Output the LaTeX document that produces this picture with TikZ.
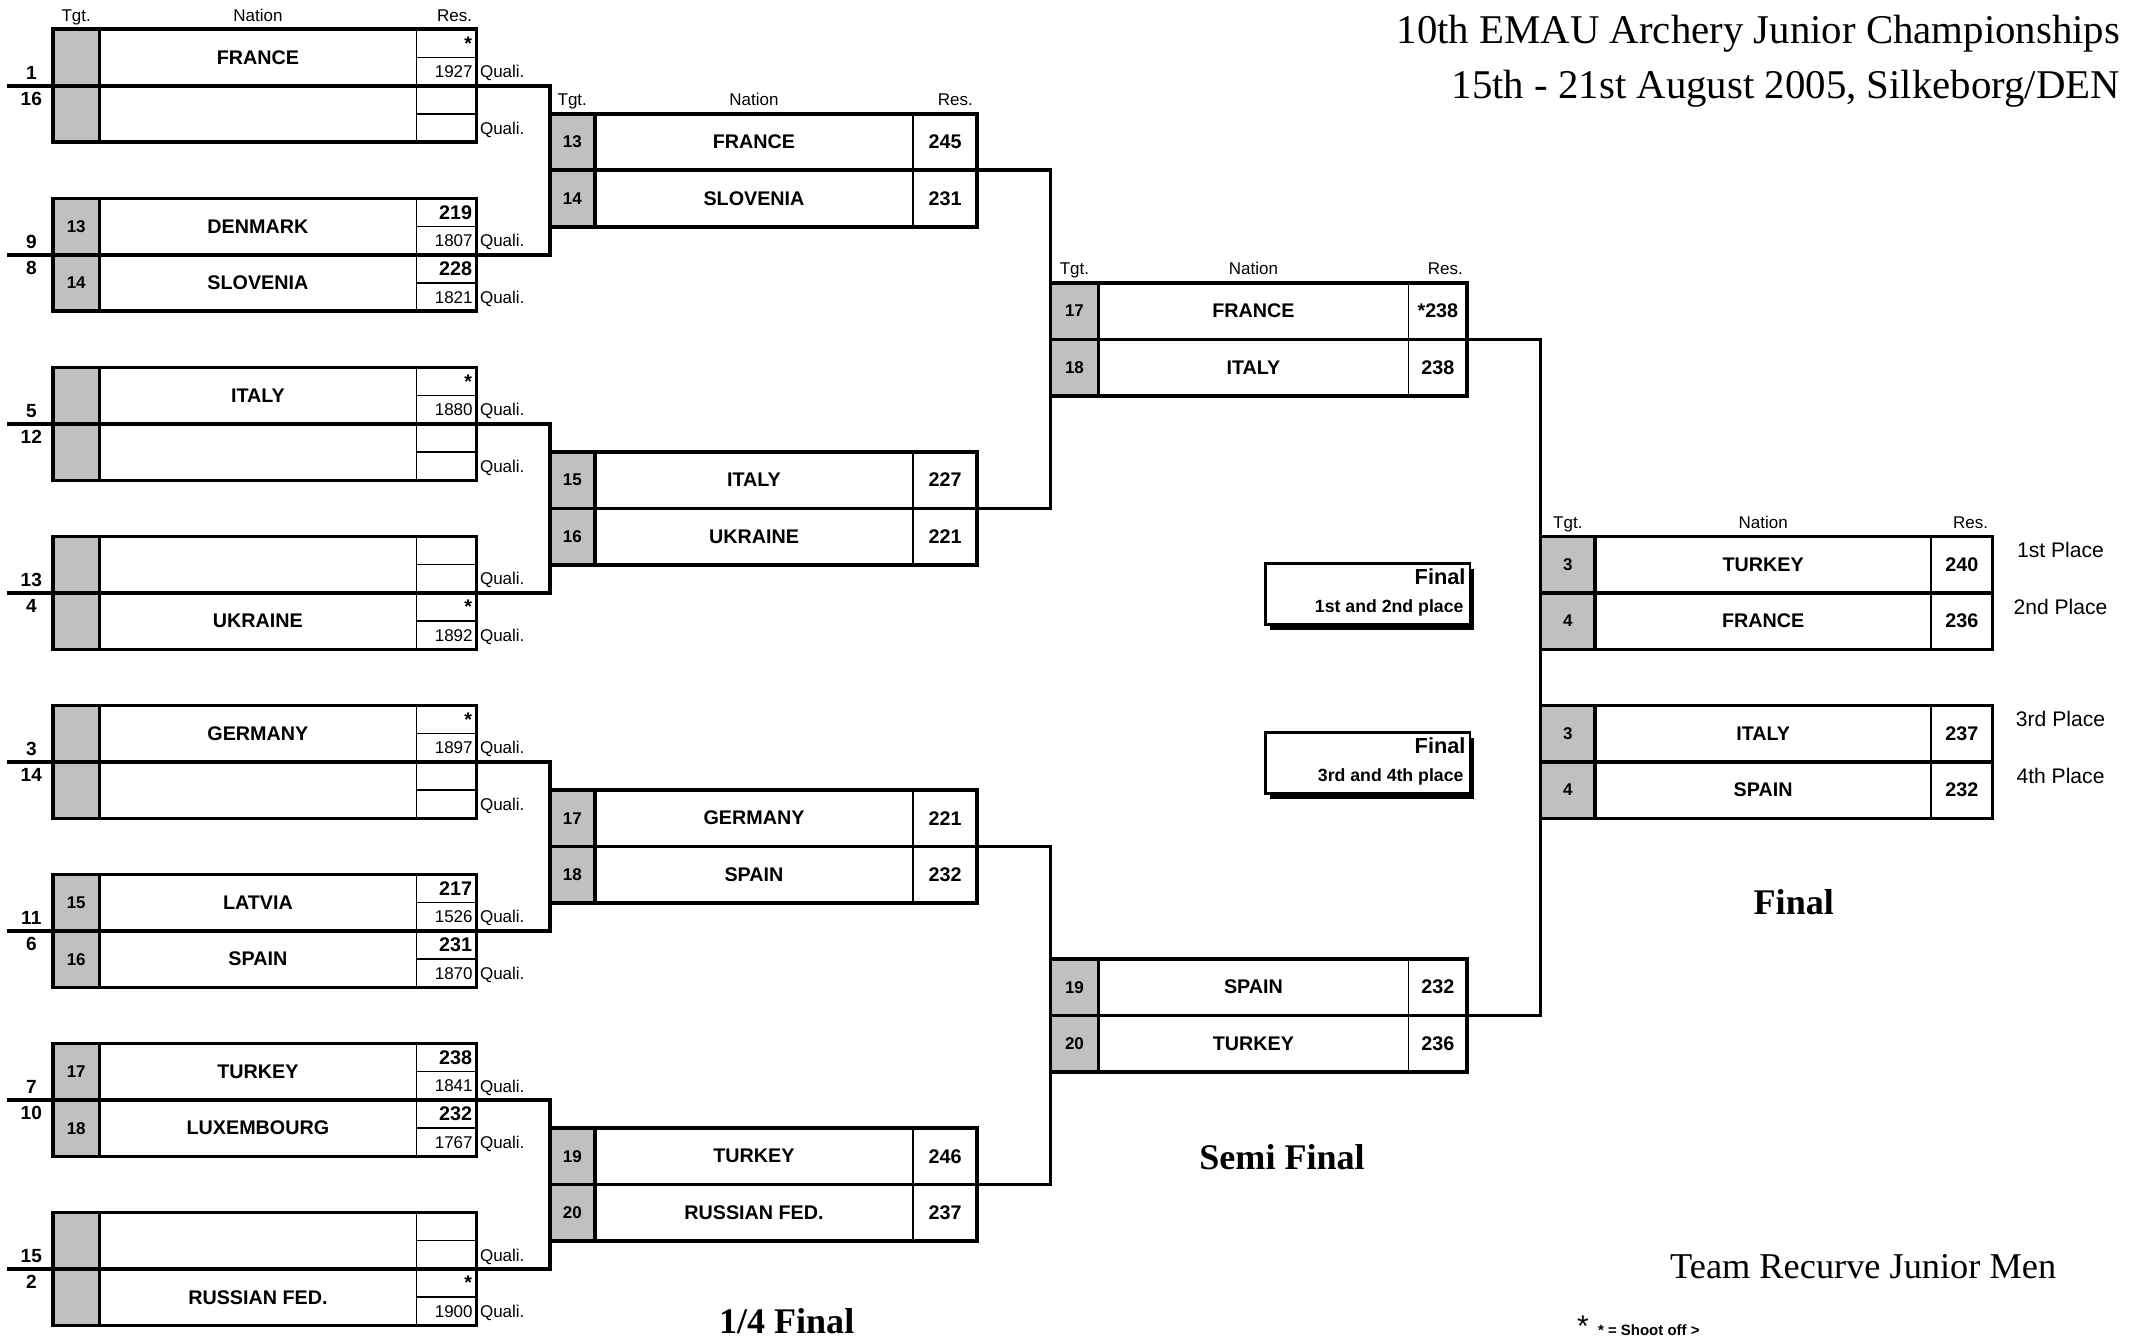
\documentclass[tikz,border=0pt]{standalone}
\usepackage{fontspec}
\setmainfont{Liberation Serif}
\setsansfont{Liberation Sans}
\usepackage{tikz}

\definecolor{tgtgray}{RGB}{192,192,192}

\tikzset{
  boxline/.style={line width=2.6pt},
  cellline/.style={line width=1.1pt},
  hdr/.style={font=\sffamily\fontsize{12.5}{14}\selectfont, inner sep=0pt},
  nation/.style={font=\sffamily\bfseries\fontsize{14.5}{16}\selectfont, inner sep=0pt},
  tgtnum/.style={font=\sffamily\bfseries\fontsize{12.5}{14}\selectfont, inner sep=0pt},
  resnum/.style={font=\sffamily\bfseries\fontsize{14.5}{16}\selectfont, inner sep=0pt},
  quali/.style={font=\sffamily\fontsize{12.5}{14}\selectfont, inner sep=0pt, text depth=0pt},
  seed/.style={font=\sffamily\bfseries\fontsize{14}{16}\selectfont, inner sep=0pt},
  place/.style={font=\sffamily\fontsize{15.5}{18}\selectfont, inner sep=0pt},
  roundname/.style={font=\rmfamily\bfseries\fontsize{26.5}{30}\selectfont, inner sep=0pt},
  title/.style={font=\rmfamily\fontsize{30}{34}\selectfont, inner sep=0pt, anchor=east},
  signbig/.style={font=\sffamily\bfseries\fontsize{16}{18}\selectfont, inner sep=0pt},
  signsmall/.style={font=\sffamily\bfseries\fontsize{13}{15}\selectfont, inner sep=0pt},
}

% #1 name, #2 left x, #3 y of the middle line (\tw, \nw, \rw = column widths)
\newcommand{\matchbox}[3]{%
  \node[minimum width={(\tw+\nw+\rw)*1pt}, minimum height=83pt, inner sep=0pt, outer sep=0pt, anchor=west] (#1) at (#2,#3) {};
  \fill[tgtgray] (#1.north west) rectangle ([xshift={\tw*1pt}]#1.south west);
  \draw[boxline] ([xshift={\tw*1pt}]#1.north west) -- ([xshift={\tw*1pt}]#1.south west);
  \draw[cellline] ([xshift={-\rw*1pt}]#1.north east) -- ([xshift={-\rw*1pt}]#1.south east);
  \draw[boxline] (#1.west) -- (#1.east);
  \draw[boxline] (#1.north west) rectangle (#1.south east);
}

% first round box: #4, #5 = seeds
\newcommand{\firstbox}[5]{%
  \matchbox{#1}{#2}{#3}
  \draw[boxline] (5,#3) -- (#1.west);
  \draw[cellline] ({#2+\tw+\nw},{#3-20.75}) -- ++(\rw,0);
  \draw[cellline] ({#2+\tw+\nw},{#3+20.75}) -- ++(\rw,0);
  \node[seed, anchor=south] (#1-sa) at (23,{#3-4.5}) {#4};
  \node[seed, anchor=north] (#1-sb) at (23,{#3+4.5}) {#5};
}

% #1 name, #2 left x, #3 top y
\newcommand{\headers}[3]{%
  \node[hdr, anchor=base] (#1-ht) at ({#2+\tw/2},{#3-6}) {Tgt.};
  \node[hdr, anchor=base] (#1-hn) at ({#2+\tw+\nw/2},{#3-6}) {Nation};
  \node[hdr, anchor=base east] (#1-hr) at ({#2+\tw+\nw+\rw-3},{#3-6}) {Res.};
}

% #1 name, #2 left x, #3 row centre, #4 tgt, #5 nation, #6 result, #7 quali score
\newcommand{\firstrow}[7]{%
  \node[tgtnum] (#1-t) at ({#2+\tw/2},#3) {#4};
  \node[nation] (#1-n) at ({#2+\tw+\nw/2},#3) {#5};
  \node[resnum, anchor=east] (#1-r) at ({#2+\tw+\nw+\rw-3},{#3-10.4}) {#6};
  \node[quali, anchor=east] (#1-s) at ({#2+\tw+\nw+\rw-2.5},{#3+10.4}) {#7};
  \node[quali, anchor=west] (#1-q) at ({#2+\tw+\nw+\rw+2.5},{#3+10.4}) {Quali.};
}

% #1 name, #2 left x, #3 row centre, #4 tgt, #5 nation, #6 result
\newcommand{\teamrow}[6]{%
  \node[tgtnum] (#1-t) at ({#2+\tw/2},#3) {#4};
  \node[nation] (#1-n) at ({#2+\tw+\nw/2},#3) {#5};
  \node[resnum] (#1-r) at ({#2+\tw+\nw+\rw/2},#3) {#6};
}

% #1 name, #2 top y, #3 places
\newcommand{\finalsign}[3]{%
  \fill (933,{#2+5}) rectangle (1083,{#2+50});
  \node[draw, fill=white, line width=2pt, minimum width=150pt, minimum height=45pt, inner sep=0pt, anchor=north west] (#1) at (929,#2) {};
  \node[signbig, anchor=east] (#1-a) at ([xshift=-4pt, yshift=-11pt]#1.north east) {Final};
  \node[signsmall, anchor=east] (#1-b) at ([xshift=-5.5pt, yshift=13pt]#1.south east) {#3};
}

\begin{document}
\begin{tikzpicture}[x=1pt,y=-1pt]
\useasboundingbox (0,0) rectangle (1568,984.6);

% Title
\node[title] (title1) at (1558,25) {10th EMAU Archery Junior Championships};
\node[title] (title2) at (1558,65) {15th - 21st August 2005, Silkeborg/DEN};

% First round
\def\tw{34}\def\nw{233}\def\rw{44}
\foreach \nm/\dy/\sa/\sb in {m1/63/1/16, m2/187.2/9/8, m3/311.4/5/12, m4/435.6/13/4,
  m5/559.8/3/14, m6/684/11/6, m7/808.2/7/10, m8/932.4/15/2}
  {\firstbox{\nm}{39}{\dy}{\sa}{\sb}}
\headers{m1}{39}{21.5}
\foreach \nm/\yy/\tg/\na/\rs/\ql in {
  m1a/42.25/{}/FRANCE/*/1927, m1b/83.75/{}/{}/{}/{},
  m2a/166.45/13/DENMARK/219/1807, m2b/207.95/14/SLOVENIA/228/1821,
  m3a/290.65/{}/ITALY/*/1880, m3b/332.15/{}/{}/{}/{},
  m4a/414.85/{}/{}/{}/{}, m4b/456.35/{}/UKRAINE/*/1892,
  m5a/539.05/{}/GERMANY/*/1897, m5b/580.55/{}/{}/{}/{},
  m6a/663.25/15/LATVIA/217/1526, m6b/704.75/16/SPAIN/231/1870,
  m7a/787.45/17/TURKEY/238/1841, m7b/828.95/18/LUXEMBOURG/232/1767,
  m8a/911.65/{}/{}/{}/{}, m8b/953.15/{}/RUSSIAN FED./*/1900}
  {\firstrow{\nm}{39}{\yy}{\tg}{\na}{\rs}{\ql}}

% 1/4 final
\def\tw{33}\def\nw{234}\def\rw{47}
\foreach \nm/\dy in {q1/125.1, q2/373.5, q3/621.9, q4/870.3}
  {\matchbox{\nm}{404}{\dy}}
\headers{q1}{404}{83.6}
\foreach \nm/\yy/\tg/\na/\rs in {q1a/104.35/13/FRANCE/245, q1b/145.85/14/SLOVENIA/231,
  q2a/352.75/15/ITALY/227, q2b/394.25/16/UKRAINE/221,
  q3a/601.15/17/GERMANY/221, q3b/642.65/18/SPAIN/232,
  q4a/849.55/19/TURKEY/246, q4b/891.05/20/RUSSIAN FED./237}
  {\teamrow{\nm}{404}{\yy}{\tg}{\na}{\rs}}

% Semi final
\def\tw{35}\def\nw{228}\def\rw{43}
\foreach \nm/\dy in {s1/249.3, s2/746.1}
  {\matchbox{\nm}{772}{\dy}}
\headers{s1}{772}{207.8}
\foreach \nm/\yy/\tg/\na/\rs in {s1a/228.55/17/FRANCE/*238, s1b/270.05/18/ITALY/238,
  s2a/725.35/19/SPAIN/232, s2b/766.85/20/TURKEY/236}
  {\teamrow{\nm}{772}{\yy}{\tg}{\na}{\rs}}

% Final
\def\tw{40}\def\nw{247}\def\rw{45}
\foreach \nm/\dy in {f1/435.6, f2/559.8}
  {\matchbox{\nm}{1132}{\dy}}
\headers{f1}{1132}{394.1}
\foreach \nm/\yy/\tg/\na/\rs in {f1a/414.85/3/TURKEY/240, f1b/456.35/4/FRANCE/236,
  f2a/539.05/3/ITALY/237, f2b/580.55/4/SPAIN/232}
  {\teamrow{\nm}{1132}{\yy}{\tg}{\na}{\rs}}

% Brackets
\foreach \a/\b/\c in {m1/m2/q1, m3/m4/q2, m5/m6/q3, m7/m8/q4, q1/q2/s1, q3/q4/s2, s1/s2/f1}
  \draw[boxline] (\a.east) -- (\a.east -| \c.west) |- (\b.east);

% Places
\foreach \nm/\yy/\tx in {p1/404/1st Place, p2/446/2nd Place, p3/528/3rd Place, p4/570/4th Place}
  \node[place] (\nm) at (1514,\yy) {\tx};

% Final signs
\finalsign{sign1}{413}{1st and 2nd place}
\finalsign{sign2}{537}{3rd and 4th place}

% Round names
\node[roundname] (qfname) at (578,971) {1/4 Final};
\node[roundname] (sfname) at (942,850) {Semi Final};
\node[roundname] (fname) at (1318,663) {Final};
\node[font=\rmfamily\fontsize{26.7}{30}\selectfont, inner sep=0pt] (event) at (1369,931) {Team Recurve Junior Men};

% Shoot off note
\node[font=\sffamily\fontsize{22}{24}\selectfont, inner sep=0pt, anchor=north] (star) at (1163,967) {*};
\node[font=\sffamily\bfseries\fontsize{11}{13}\selectfont, inner sep=0pt, anchor=north west] (shootoff) at (1174,973) {* = Shoot off >};
\end{tikzpicture}
\end{document}
